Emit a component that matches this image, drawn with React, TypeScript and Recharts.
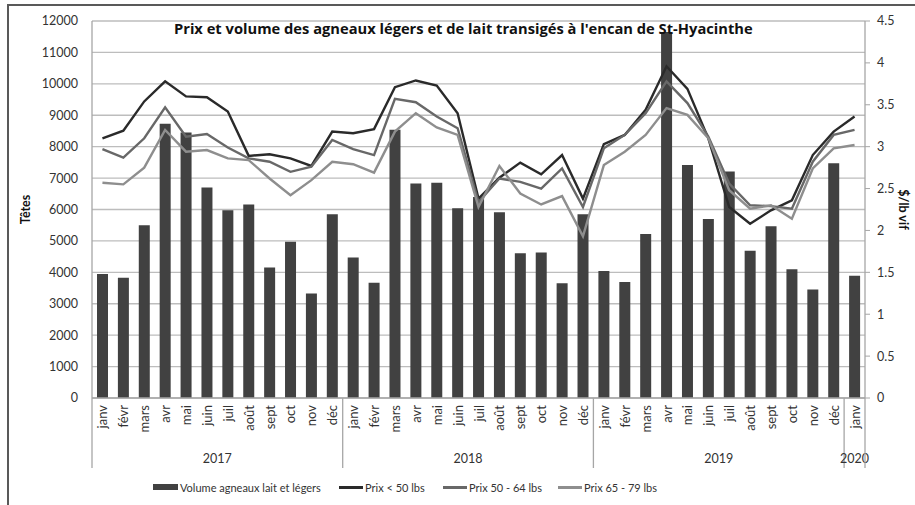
import { ComposedChart, Bar, Line, XAxis, YAxis, CartesianGrid } from "recharts";

const monthNames = ["janv", "févr", "mars", "avr", "mai", "juin", "juil", "août", "sept", "oct", "nov", "déc"];
const yearLabels = ["2017", "2018", "2019", "2020"];
const monthsPerYear = [12, 12, 12, 1];

// Volume agneaux lait et légers (têtes)
const volume = [
  3950, 3830, 5500, 8730, 8450, 6700, 5980, 6160, 4150, 4970, 3330, 5850,
  4470, 3670, 8540, 6830, 6850, 6040, 6400, 5910, 4610, 4630, 3650, 5850,
  4040, 3690, 5220, 11650, 7420, 5700, 7210, 4690, 5470, 4100, 3450, 7470,
  3890,
];

// $/lb vif
const prixMoins50 = [
  3.1, 3.19, 3.54, 3.78, 3.6, 3.59, 3.42, 2.89, 2.91, 2.86, 2.77, 3.18,
  3.16, 3.21, 3.71, 3.79, 3.73, 3.4, 2.38, 2.63, 2.81, 2.67, 2.9, 2.38,
  3.03, 3.14, 3.44, 3.96, 3.69, 3.1, 2.28, 2.08, 2.24, 2.36, 2.9, 3.18,
  3.36,
];
const prix50a64 = [
  2.97, 2.87, 3.1, 3.47, 3.12, 3.15, 2.99, 2.86, 2.82, 2.7, 2.76, 3.08,
  2.97, 2.9, 3.57, 3.53, 3.36, 3.22, 2.34, 2.62, 2.58, 2.5, 2.74, 2.28,
  2.98, 3.14, 3.4, 3.78, 3.52, 3.12, 2.56, 2.3, 2.29, 2.26, 2.82, 3.14,
  3.2,
];
const prix65a79 = [
  2.57, 2.55, 2.75, 3.2, 2.94, 2.96, 2.86, 2.84, 2.62, 2.42, 2.6, 2.82,
  2.79, 2.69, 3.18, 3.4, 3.23, 3.14, 2.28, 2.77, 2.44, 2.31, 2.41, 1.93,
  2.78, 2.94, 3.14, 3.46, 3.38, 3.1, 2.48, 2.26, 2.3, 2.14, 2.74, 2.98,
  3.02,
];

const leftTicks = [0, 1000, 2000, 3000, 4000, 5000, 6000, 7000, 8000, 9000, 10000, 11000, 12000];
const rightTicks = [0, 0.5, 1, 1.5, 2, 2.5, 3, 3.5, 4, 4.5];

const groups = yearLabels.map((year, g) => ({
  year,
  count: monthsPerYear[g],
  start: monthsPerYear.slice(0, g).reduce((a, b) => a + b, 0),
}));

const data = volume.map((v, i) => ({
  month: monthNames[i % 12],
  volume: v,
  p50: prixMoins50[i],
  p64: prix50a64[i],
  p79: prix65a79[i],
}));

const FONT = "Lato, 'Open Sans', sans-serif";
const GRID = "#bdbdbd";
const AXIS = "#a6a6a6";
const TEXT = "#333";
const C_BAR = "#414141";
const C_50 = "#2a2a2a";
const C_64 = "#686868";
const C_79 = "#8e8e8e";

function MonthTick(props: any) {
  const { x, y, payload } = props;
  const i = payload.index;
  const half = payload.offset || 10.45;
  const g = groups.find((gr) => gr.start === i);
  const ty = y + 7;
  return (
    <g>
      <text
        x={x}
        y={ty}
        transform={`rotate(-90 ${x} ${ty})`}
        textAnchor="end"
        dominantBaseline="central"
        fontSize={13}
        fontFamily={FONT}
        fill={TEXT}
      >
        {payload.value}
      </text>
      {g && (
        <>
          <line x1={x - half} x2={x - half} y1={y} y2={y + 70} stroke={AXIS} strokeWidth={1.3} />
          <text
            x={x - half + g.count * half}
            y={y + 65}
            textAnchor="middle"
            fontSize={12.5}
            fontFamily={FONT}
            fill={TEXT}
          >
            {g.year}
          </text>
        </>
      )}
      {i === data.length - 1 && (
        <line x1={x + half} x2={x + half} y1={y} y2={y + 70} stroke={AXIS} strokeWidth={1.3} />
      )}
    </g>
  );
}

const legendItems = [
  { label: "Volume agneaux lait et légers", color: C_BAR, kind: "bar", left: 153 },
  { label: "Prix < 50 lbs", color: C_50, kind: "line", left: 339 },
  { label: "Prix 50 - 64 lbs", color: C_64, kind: "line", left: 443 },
  { label: "Prix 65 - 79 lbs", color: C_79, kind: "line", left: 558 },
];

export default function App() {
  return (
    <div style={{ position: "absolute", left: 0, top: 0, width: 915, height: 505, overflow: "hidden", background: "#fff", fontFamily: FONT }}>
      <div style={{ position: "absolute", left: 7, top: 4, width: 930, height: 520, border: "2px solid #595959", boxSizing: "border-box" }} />
      <ComposedChart
        width={915}
        height={505}
        data={data}
        margin={{ top: 21, right: 10, bottom: 37, left: 30 }}
        barCategoryGap={0}
      >
        <CartesianGrid yAxisId="left" vertical={false} stroke={GRID} strokeWidth={1.4} />
        <XAxis
          dataKey="month"
          height={70}
          interval={0}
          tickSize={0}
          tickMargin={0}
          tickLine={false}
          axisLine={{ stroke: AXIS, strokeWidth: 1.3 }}
          tick={<MonthTick />}
        />
        <YAxis
          yAxisId="left"
          width={62}
          domain={[0, 12000]}
          ticks={leftTicks}
          interval={0}
          tickLine={false}
          tickSize={0}
          tickMargin={14}
          axisLine={{ stroke: AXIS, strokeWidth: 1.3 }}
          tick={{ fontSize: 12.5, fill: TEXT, fontFamily: FONT }}
          label={{ value: "Têtes", angle: -90, position: "insideLeft", offset: -4, style: { textAnchor: "middle", fontWeight: 700, fontSize: 12.5, fill: "#111", fontFamily: FONT } }}
        />
        <YAxis
          yAxisId="right"
          orientation="right"
          width={40}
          domain={[0, 4.5]}
          ticks={rightTicks}
          interval={0}
          tickSize={5}
          tickMargin={7}
          tickLine={{ stroke: AXIS }}
          axisLine={{ stroke: AXIS, strokeWidth: 1.3 }}
          tick={{ fontSize: 12.5, fill: TEXT, fontFamily: FONT }}
          label={{ value: "$/lb vif", angle: 90, position: "insideRight", offset: 2, style: { textAnchor: "middle", fontWeight: 700, fontSize: 12.5, fill: "#111", fontFamily: FONT } }}
        />
        <Bar yAxisId="left" dataKey="volume" fill={C_BAR} barSize={11} isAnimationActive={false} />
        <Line yAxisId="right" type="linear" dataKey="p50" stroke={C_50} strokeWidth={2.4} dot={false} isAnimationActive={false} />
        <Line yAxisId="right" type="linear" dataKey="p64" stroke={C_64} strokeWidth={2.4} dot={false} isAnimationActive={false} />
        <Line yAxisId="right" type="linear" dataKey="p79" stroke={C_79} strokeWidth={2.4} dot={false} isAnimationActive={false} />
      </ComposedChart>
      <div style={{ position: "absolute", left: 174, top: 18, fontSize: 14.7, fontWeight: 700, color: "#111", whiteSpace: "nowrap", fontFamily: "'Open Sans', Lato, sans-serif" }}>
        Prix et volume des agneaux légers et de lait transigés à l'encan de St-Hyacinthe
      </div>
      {legendItems.map((it) => (
        <div key={it.label} style={{ position: "absolute", left: it.left, top: 479, height: 16, display: "flex", alignItems: "center", fontSize: 11, color: TEXT, whiteSpace: "nowrap" }}>
          <span style={{ display: "inline-block", width: it.kind === "bar" ? 25 : 24, height: it.kind === "bar" ? 6 : 3, background: it.color, marginRight: 2 }} />
          {it.label}
        </div>
      ))}
    </div>
  );
}
